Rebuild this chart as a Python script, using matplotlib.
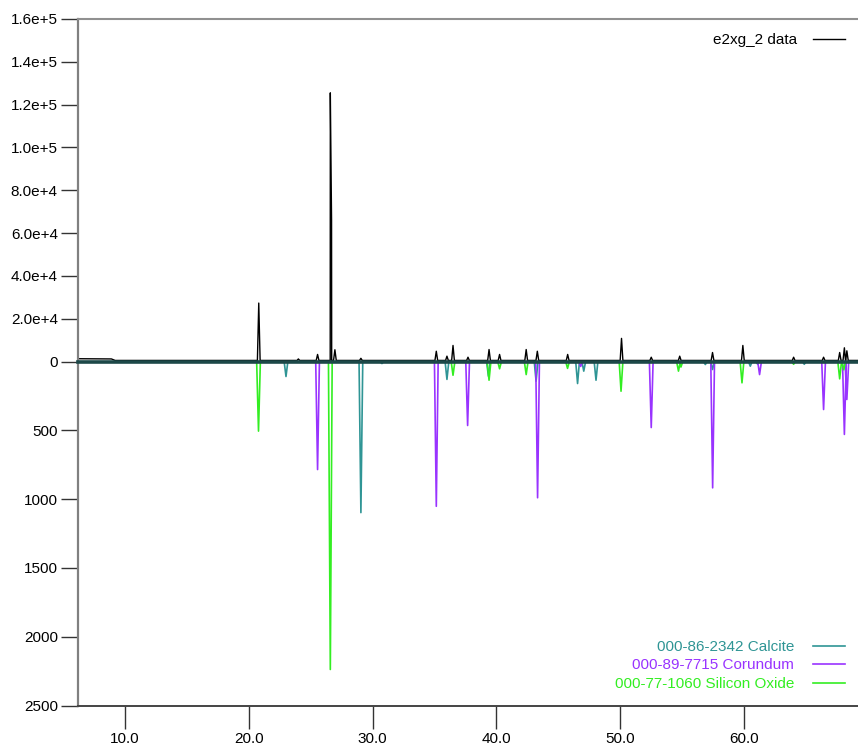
import matplotlib
matplotlib.use("Agg")
from matplotlib import pyplot as plt
from matplotlib.lines import Line2D

plt.rcParams['font.family'] = ['Liberation Sans', 'DejaVu Sans']

# measured pattern (2theta, counts)
bg_2theta = [6.2, 8.9, 9.2, 69.3]
bg_counts = [1300, 1200, 500, 500]
data_pos = [20.8, 24.0, 25.55, 26.58, 26.68, 26.95, 29.05, 35.14, 36.0, 36.49,
            37.7, 39.4, 40.25, 42.4, 43.3, 45.75, 50.1, 52.5, 54.8, 57.45,
            59.9, 64.0, 66.42, 67.72, 68.1, 68.3]
data_int = [27300, 1200, 3300, 125500, 66000, 5500, 1500, 4800, 2500, 7500,
            2000, 5600, 3300, 5600, 4800, 3300, 10800, 2000, 2500, 4200,
            7500, 2000, 2000, 4200, 6400, 5000]

# reference cards (2theta, intensity)
calcite_pos = [23.0, 29.05, 30.75, 36.0, 39.35, 43.2, 46.55, 47.05, 48.04,
               56.87, 57.45, 60.5, 61.1, 64.86]
calcite_int = [109, 1098, 15, 130, 107, 143, 160, 70, 136, 22, 58, 34, 20, 20]
corundum_pos = [25.55, 35.14, 37.67, 43.32, 46.8, 52.5, 57.46, 61.25, 66.42, 68.1, 68.3]
corundum_int = [785, 1052, 465, 990, 36, 480, 918, 95, 349, 530, 276]
quartz_pos = [20.78, 26.58, 36.49, 39.4, 40.25, 42.4, 45.74, 50.06, 54.7, 54.9,
              59.83, 64.0, 67.72, 68.05]
quartz_int = [506, 2238, 100, 136, 53, 95, 50, 216, 70, 40, 155, 20, 126, 60]

cards = [
    ("000-86-2342 Calcite", calcite_pos, calcite_int, "#2f9595"),
    ("000-89-7715 Corundum", corundum_pos, corundum_int, "#9933ff"),
    ("000-77-1060 Silicon Oxide", quartz_pos, quartz_int, "#33ee22"),
]

y_top_ticks = [0, 20000, 40000, 60000, 80000, 100000, 120000, 140000, 160000]
y_top_labels = ["0", "2.0e+4", "4.0e+4", "6.0e+4", "8.0e+4", "1.0e+5", "1.2e+5", "1.4e+5", "1.6e+5"]
y_bot_ticks = [500, 1000, 1500, 2000, 2500]
x_ticks = [10, 20, 30, 40, 50, 60]


def peak_line(pos, inten, hw, base=0.0):
    xs, ys = [], []
    for p, h in zip(pos, inten):
        xs += [p - hw, p, p + hw]
        ys += [base, h, base]
    return xs, ys


fig = plt.figure(figsize=(8.58, 7.48), dpi=100)
ax1 = fig.add_axes([0.0909, 0.5167, 0.9091, 0.4579])
ax2 = fig.add_axes([0.0909, 0.0568, 0.9091, 0.4599])
xlim = (6.2, 69.2)

# top: measured data
xs, ys = peak_line(data_pos, data_int, 0.11, 500)
order = sorted(range(len(xs)), key=lambda i: xs[i])
xs = bg_2theta[:3] + [xs[i] for i in order] + bg_2theta[3:]
ys = bg_counts[:3] + [ys[i] for i in order] + bg_counts[3:]
ax1.plot(xs, ys, color="black", lw=1.0)
ax1.set_xlim(*xlim)
ax1.set_ylim(0, 160000)
ax1.set_yticks(y_top_ticks)
ax1.set_yticklabels(y_top_labels)
ax1.set_xticks([])

# bottom: reference patterns (inverted)
for name, pos, inten, col in cards:
    px, py = peak_line(pos, inten, 0.15)
    ax2.plot(px, py, color=col, lw=1.2)
ax2.axhline(0, color="#1c4848", lw=2.6, clip_on=False, zorder=5)
ax2.set_xlim(*xlim)
ax2.set_ylim(2500, 0)
ax2.set_yticks(y_bot_ticks)
ax2.set_yticklabels([str(t) for t in y_bot_ticks])
ax2.set_xticks(x_ticks)
ax2.set_xticklabels(["%.1f" % t for t in x_ticks])

for ax in (ax1, ax2):
    ax.spines['right'].set_visible(False)
    ax.spines['left'].set_color("#808080")
    ax.spines['left'].set_linewidth(1.6)
    ax.tick_params(axis='y', direction='out', length=12, width=1.0, color="#333333",
                   labelsize=11, pad=2.5)
ax1.spines['bottom'].set_visible(False)
ax1.spines['top'].set_color("#909090")
ax1.spines['top'].set_linewidth(1.5)
ax2.spines['top'].set_visible(False)
ax2.spines['bottom'].set_color("#444444")
ax2.spines['bottom'].set_linewidth(1.4)
ax2.tick_params(axis='x', direction='out', length=16.5, width=1.0, color="#333333",
                labelsize=11, pad=2.5)

# legends
h_data = [Line2D([], [], color="black", lw=1.0)]
ax1.legend(h_data, ["e2xg_2 data"], loc="upper right", bbox_to_anchor=(0.983, 0.958),
           frameon=False, markerfirst=False, fontsize=11, handlelength=2.1,
           handletextpad=1.0, borderpad=0, borderaxespad=0)
h_cards = [Line2D([], [], color=c[3], lw=1.2) for c in cards]
ax2.legend(h_cards, [c[0] for c in cards], loc="lower right", bbox_to_anchor=(0.983, 0.042),
           frameon=False, markerfirst=False, fontsize=11, handlelength=2.1,
           handletextpad=1.2, borderpad=0, borderaxespad=0, labelspacing=0.3,
           labelcolor=[c[3] for c in cards])

plt.savefig("out.png", dpi=100)
